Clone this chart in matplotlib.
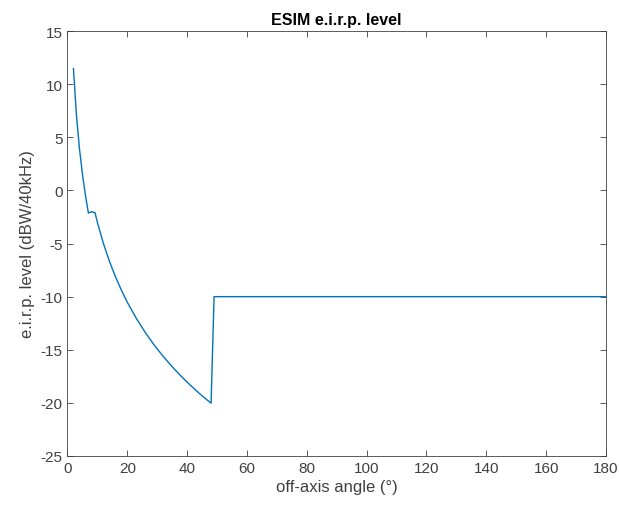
import numpy as np
import matplotlib.pyplot as plt

# off-axis angle (deg) and e.i.r.p. level (dBW/40kHz)
angle = [2, 3, 4, 5, 6, 7, 8, 9.2, 10, 12, 14, 16, 18, 20, 23, 26, 29, 32,
         35, 38, 41, 44, 46, 48, 49, 180]
eirp = [11.47, 7.07, 3.95, 1.53, -0.45, -2.13, -2.0, -2.09, -3.0, -4.98,
        -6.65, -8.10, -9.38, -10.53, -12.04, -13.37, -14.56, -15.63, -16.60,
        -17.49, -18.32, -19.09, -19.57, -20.03, -10.0, -10.0]

xticks = np.arange(0, 181, 20)
yticks = np.arange(-25, 16, 5)

grey = "#404040"
plt.rcParams['font.family'] = ['Arial', 'Liberation Sans', 'DejaVu Sans']
plt.rcParams['axes.unicode_minus'] = False

fig = plt.figure(figsize=(6.19, 5.10), dpi=100)
ax = fig.add_axes([0.109, 0.104, 0.870, 0.833])
ax.plot(angle, eirp, color="#0072BD", linewidth=1.0)

ax.set_xlim(0, 180)
ax.set_ylim(-25, 15)
ax.set_xticks(xticks)
ax.set_yticks(yticks)
ax.tick_params(direction="in", length=4, width=0.6, colors=grey,
               labelsize=11, top=True, right=True, labeltop=False, labelright=False)
for s in ax.spines.values():
    s.set_color(grey)
    s.set_linewidth(0.6)

ax.set_xlabel("off-axis angle (°)", fontsize=12, color=grey, labelpad=3)
ax.set_ylabel("e.i.r.p. level (dBW/40kHz)", fontsize=12, color=grey, labelpad=4)
ax.set_title("ESIM e.i.r.p. level", fontsize=11.5, fontweight="bold", color="black", pad=5)

fig.savefig("out.png", dpi=100)
